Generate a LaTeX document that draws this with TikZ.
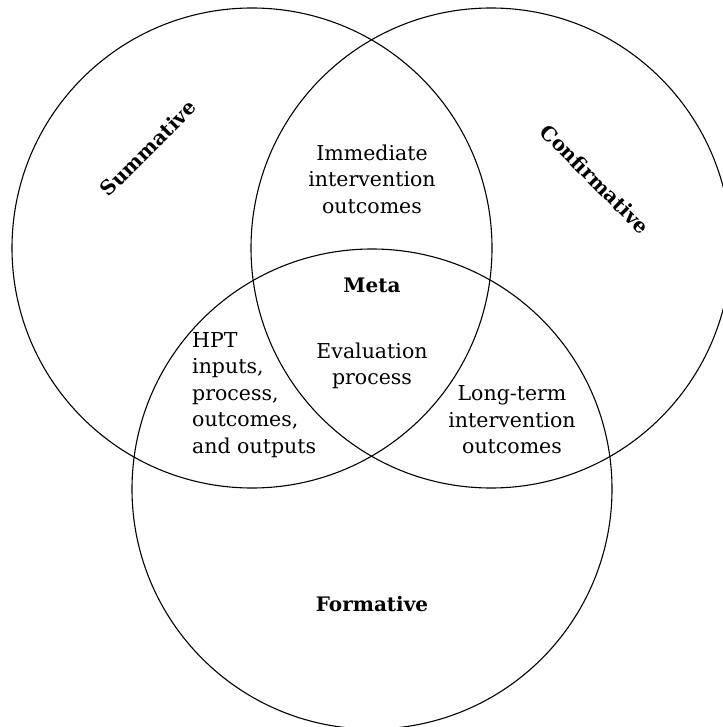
\documentclass[tikz,border=0pt]{standalone}
\usepackage{fontspec}
\setmainfont{DejaVu Serif}
\begin{document}
\begin{tikzpicture}[x=1pt,y=-1pt,
  ring/.style={draw=black,line width=1.1pt},
  lbl/.style={font=\fontsize{20.5}{26.5}\selectfont,inner sep=0pt},
  cat/.style={font=\fontsize{20}{26.5}\selectfont\bfseries,inner sep=0pt}]
\useasboundingbox (0,0) rectangle (722,727);
\fill[white] (0,0) rectangle (722,727);
\node[ring,circle,minimum size=480pt,inner sep=0pt] (S) at (252,248) {};
\node[ring,circle,minimum size=480pt,inner sep=0pt] (C) at (491,248) {};
\node[ring,circle,minimum size=480pt,inner sep=0pt] (F) at (372,489) {};
\node[cat,rotate=45] (sum) at (148,148) {Summative};
\node[cat,rotate=-45] (conf) at (595,179) {Confirmative};
\node[cat] (form) at (372,604) {Formative};
\node[cat] (meta) at (372,285) {Meta};
\node[lbl,align=center] (imm) at (372,179) {Immediate\\intervention\\outcomes};
\node[lbl,align=center] (eval) at (372,366) {Evaluation\\process};
\node[lbl,align=left,anchor=west] (hpt) at (192,395) {HPT\\inputs,\\process,\\outcomes,\\and outputs};
\node[lbl,align=center] (long) at (512,420) {Long-term\\intervention\\outcomes};
\end{tikzpicture}
\end{document}
